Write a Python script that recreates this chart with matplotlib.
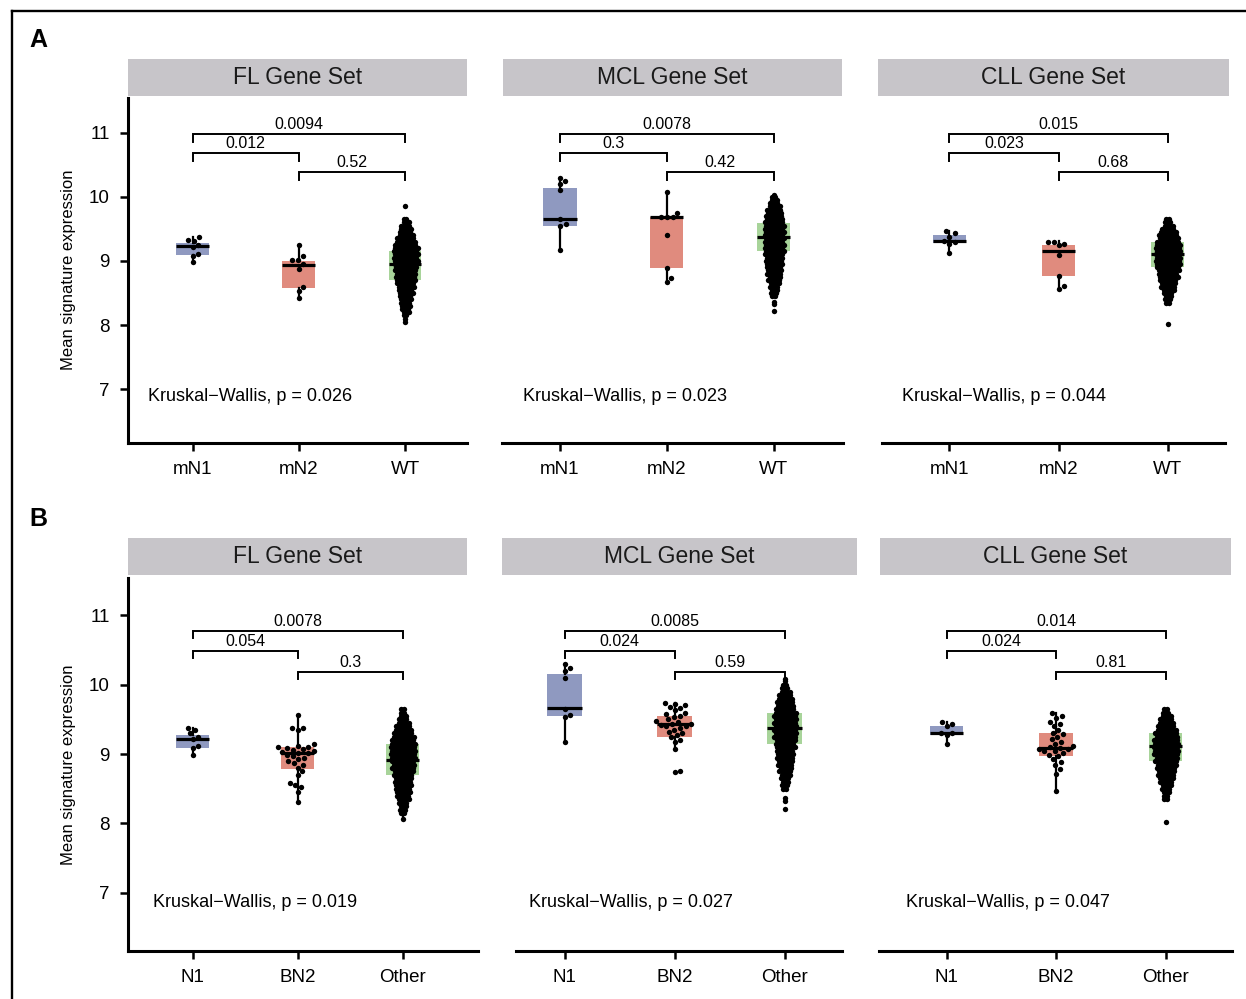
import numpy as np
import matplotlib
matplotlib.use("Agg")
import matplotlib.pyplot as plt
from matplotlib.patches import Rectangle
from matplotlib.lines import Line2D

plt.rcParams['font.family'] = ['Liberation Sans', 'DejaVu Sans']

# ---------------- data ----------------
gene_sets = ["FL Gene Set", "MCL Gene Set", "CLL Gene Set"]
groups_A = ["mN1", "mN2", "WT"]
groups_B = ["N1", "BN2", "Other"]
box_colors = ["#8f99c0", "#e08b7e", "#a8d49a"]

# box stats per group: [q1, median, q3, whisker_low, whisker_high]
box_A_FL = [[9.09, 9.23, 9.28, 8.98, 9.37], [8.58, 8.93, 9.00, 8.41, 9.24], [8.70, 8.95, 9.16, 8.08, 9.65]]
box_A_MCL = [[9.55, 9.66, 10.14, 9.17, 10.30], [8.89, 9.68, 9.69, 8.68, 10.07], [9.15, 9.37, 9.59, 8.50, 10.03]]
box_A_CLL = [[9.28, 9.31, 9.41, 9.13, 9.47], [8.77, 9.16, 9.25, 8.56, 9.31], [8.90, 9.10, 9.29, 8.36, 9.64]]
box_B_FL = [[9.09, 9.22, 9.27, 8.99, 9.38], [8.79, 9.01, 9.10, 8.30, 9.57], [8.70, 8.92, 9.14, 8.07, 9.64]]
box_B_MCL = [[9.55, 9.66, 10.15, 9.17, 10.30], [9.24, 9.43, 9.55, 9.08, 9.73], [9.15, 9.37, 9.60, 8.51, 10.08]]
box_B_CLL = [[9.27, 9.31, 9.41, 9.14, 9.46], [8.97, 9.09, 9.30, 8.47, 9.59], [8.90, 9.12, 9.30, 8.36, 9.64]]

# individual points of the small groups
pts_A_FL_mN1 = [9.37, 9.33, 9.31, 9.24, 9.22, 9.10, 9.08, 8.98]
pts_A_FL_mN2 = [9.24, 9.07, 9.02, 9.01, 8.95, 8.88, 8.59, 8.53, 8.42]
pts_A_MCL_mN1 = [10.30, 10.24, 10.20, 10.10, 9.65, 9.57, 9.54, 9.17]
pts_A_MCL_mN2 = [10.07, 9.75, 9.69, 9.68, 9.68, 9.41, 8.89, 8.74, 8.67]
pts_A_CLL_mN1 = [9.46, 9.43, 9.38, 9.31, 9.30, 9.27, 9.13]
pts_A_CLL_mN2 = [9.30, 9.30, 9.27, 9.24, 9.09, 8.77, 8.61, 8.56]
pts_B_FL_N1 = [9.38, 9.35, 9.30, 9.24, 9.22, 9.11, 9.09, 8.99]
pts_B_FL_BN2 = [9.57, 9.38, 9.37, 9.35, 9.14, 9.12, 9.10, 9.10, 9.09, 9.07, 9.06, 9.05, 9.03, 9.02,
                9.01, 8.99, 8.97, 8.95, 8.93, 8.90, 8.87, 8.84, 8.80, 8.75, 8.70, 8.58, 8.55, 8.52, 8.45, 8.31]
pts_B_MCL_N1 = [10.30, 10.24, 10.20, 10.10, 9.65, 9.57, 9.54, 9.17]
pts_B_MCL_BN2 = [9.74, 9.72, 9.71, 9.68, 9.66, 9.63, 9.60, 9.58, 9.55, 9.53, 9.50, 9.48, 9.46, 9.44, 9.43,
                 9.42, 9.41, 9.40, 9.38, 9.35, 9.32, 9.30, 9.27, 9.24, 9.20, 9.17, 9.08, 8.76, 8.74]
pts_B_CLL_N1 = [9.46, 9.44, 9.40, 9.31, 9.30, 9.28, 9.14]
pts_B_CLL_BN2 = [9.59, 9.55, 9.52, 9.47, 9.44, 9.41, 9.35, 9.31, 9.29, 9.25, 9.22, 9.18, 9.15, 9.12, 9.10,
                 9.09, 9.08, 9.07, 9.05, 9.04, 9.02, 8.99, 8.97, 8.93, 8.89, 8.85, 8.79, 8.72, 8.47]

# large groups read as value levels and number of samples at each level
lv_A_FL_WT = [8.05, 8.10, 8.15, 8.20, 8.25, 8.30, 8.35, 8.40, 8.45, 8.50, 8.55, 8.60, 8.65, 8.70, 8.75, 8.80, 8.85,
              8.90, 8.95, 9.00, 9.05, 9.10, 9.15, 9.20, 9.25, 9.30, 9.35, 9.40, 9.45, 9.50, 9.55, 9.60, 9.65, 9.85]
ct_A_FL_WT = [1, 1, 2, 3, 3, 4, 4, 5, 5, 6, 6, 7, 7, 8, 8, 8, 9, 9, 9, 10, 10, 10, 10, 10, 9, 8, 7, 6, 5, 5, 4, 3, 2, 1]
lv_A_MCL_WT = [8.22, 8.33, 8.36, 8.45, 8.50, 8.55, 8.60, 8.65, 8.70, 8.75, 8.80, 8.85, 8.90, 8.95, 9.00, 9.05, 9.10,
               9.15, 9.20, 9.25, 9.30, 9.35, 9.40, 9.45, 9.50, 9.55, 9.60, 9.65, 9.70, 9.75, 9.80, 9.85, 9.90, 9.95,
               10.00, 10.03]
ct_A_MCL_WT = [1, 1, 1, 2, 3, 3, 4, 4, 5, 5, 6, 6, 6, 7, 7, 7, 8, 8, 8, 8, 8, 8, 8, 8, 8, 8, 8, 7, 7, 6, 6, 5, 4, 3, 2, 1]
lv_A_CLL_WT = [8.01, 8.35, 8.40, 8.45, 8.50, 8.55, 8.60, 8.65, 8.70, 8.75, 8.80, 8.85, 8.90, 8.95, 9.00, 9.05, 9.10,
               9.15, 9.20, 9.25, 9.30, 9.35, 9.40, 9.45, 9.50, 9.55, 9.60, 9.65]
ct_A_CLL_WT = [1, 2, 3, 3, 4, 5, 6, 6, 7, 8, 8, 9, 9, 10, 10, 10, 10, 10, 10, 10, 9, 8, 8, 7, 5, 4, 3, 2]
lv_B_FL_Other = [8.07, 8.15, 8.20, 8.25, 8.30, 8.35, 8.40, 8.45, 8.50, 8.55, 8.60, 8.65, 8.70, 8.75, 8.80, 8.85,
                 8.90, 8.95, 9.00, 9.05, 9.10, 9.15, 9.20, 9.25, 9.30, 9.35, 9.40, 9.45, 9.50, 9.55, 9.60, 9.65]
ct_B_FL_Other = [1, 2, 3, 3, 4, 5, 5, 6, 6, 7, 7, 7, 8, 8, 9, 9, 9, 10, 10, 10, 10, 10, 9, 9, 8, 7, 6, 5, 4, 3, 2, 2]
lv_B_MCL_Other = [8.21, 8.33, 8.36, 8.50, 8.55, 8.60, 8.65, 8.70, 8.75, 8.80, 8.85, 8.90, 8.95, 9.00, 9.05, 9.10,
                  9.15, 9.20, 9.25, 9.30, 9.35, 9.40, 9.45, 9.50, 9.55, 9.60, 9.65, 9.70, 9.75, 9.80, 9.85, 9.90,
                  9.95, 10.00, 10.05, 10.08]
ct_B_MCL_Other = [1, 1, 1, 2, 3, 3, 4, 4, 5, 5, 6, 6, 7, 7, 7, 8, 8, 8, 9, 9, 9, 9, 9, 9, 9, 9, 8, 7, 7, 6, 5, 4, 3,
                  2, 1, 1]
lv_B_CLL_Other = [8.02, 8.35, 8.40, 8.45, 8.50, 8.55, 8.60, 8.65, 8.70, 8.75, 8.80, 8.85, 8.90, 8.95, 9.00, 9.05,
                  9.10, 9.15, 9.20, 9.25, 9.30, 9.35, 9.40, 9.45, 9.50, 9.55, 9.60, 9.65]
ct_B_CLL_Other = [1, 2, 2, 3, 4, 4, 5, 6, 7, 7, 8, 8, 9, 9, 10, 10, 10, 10, 10, 9, 9, 8, 7, 6, 5, 4, 3, 2]

# pairwise p-values: (1 vs 3), (1 vs 2), (2 vs 3)
p_A_FL = ["0.0094", "0.012", "0.52"]
p_A_MCL = ["0.0078", "0.3", "0.42"]
p_A_CLL = ["0.015", "0.023", "0.68"]
p_B_FL = ["0.0078", "0.054", "0.3"]
p_B_MCL = ["0.0085", "0.024", "0.59"]
p_B_CLL = ["0.014", "0.024", "0.81"]
kw_A = ["0.026", "0.023", "0.044"]
kw_B = ["0.019", "0.027", "0.047"]

y_ticks = [7, 8, 9, 10, 11]

# ---------------- layout (pixels) ----------------
W, H = 1246, 999
fig = plt.figure(figsize=(W / 100, H / 100), dpi=100)
YLIM = (6.16, 11.54)

rows = [
    dict(top=98, bot=443, strip=(59, 96), groups=groups_A, kw=kw_A, brk=[10.98, 10.68, 10.38], tick=0.12,
         letter="A", letter_y=40, ylabel_y=270, kw_y=6.88,
         panels=[dict(L=128, R=467, p1=192.5, p3=405, sx=(128, 467), kwx=148, box=box_A_FL, pv=p_A_FL,
                      small=[pts_A_FL_mN1, pts_A_FL_mN2], big=(lv_A_FL_WT, ct_A_FL_WT)),
                 dict(L=502, R=843, p1=560, p3=773.5, sx=(503, 842), kwx=523, box=box_A_MCL, pv=p_A_MCL,
                      small=[pts_A_MCL_mN1, pts_A_MCL_mN2], big=(lv_A_MCL_WT, ct_A_MCL_WT)),
                 dict(L=882, R=1225, p1=949.5, p3=1167.5, sx=(878, 1229), kwx=902, box=box_A_CLL, pv=p_A_CLL,
                      small=[pts_A_CLL_mN1, pts_A_CLL_mN2], big=(lv_A_CLL_WT, ct_A_CLL_WT))]),
    dict(top=578, bot=951, strip=(538, 575), groups=groups_B, kw=kw_B, brk=[10.78, 10.48, 10.18], tick=0.10,
         letter="B", letter_y=519, ylabel_y=765, kw_y=6.86,
         panels=[dict(L=128, R=478, p1=192.5, p3=402.5, sx=(128, 467), kwx=153, box=box_B_FL, pv=p_B_FL,
                      small=[pts_B_FL_N1, pts_B_FL_BN2], big=(lv_B_FL_Other, ct_B_FL_Other)),
                 dict(L=516, R=842, p1=564.5, p3=784.5, sx=(502, 857), kwx=529, box=box_B_MCL, pv=p_B_MCL,
                      small=[pts_B_MCL_N1, pts_B_MCL_BN2], big=(lv_B_MCL_Other, ct_B_MCL_Other)),
                 dict(L=879, R=1232, p1=946.5, p3=1165.5, sx=(880, 1231), kwx=906, box=box_B_CLL, pv=p_B_CLL,
                      small=[pts_B_CLL_N1, pts_B_CLL_BN2], big=(lv_B_CLL_Other, ct_B_CLL_Other))]),
]

DOT_D = 6.0      # px min distance in swarm
ROW_SP = 2.55    # px spacing within a dense row
MS = 15          # scatter marker size


def swarm(values, ppx, ppy, d):
    values = np.asarray(values, float)
    order = np.argsort(values)
    placed = []
    res = np.zeros(len(values))
    for i in order:
        y = values[i] * ppy
        cands = [0.0]
        for (px, py) in placed:
            dy = y - py
            if abs(dy) < d:
                dx = np.sqrt(d * d - dy * dy)
                cands += [px + dx, px - dx]
        cands.sort(key=abs)
        for c in cands:
            if all((c - px) ** 2 + (y - py) ** 2 >= d * d - 1e-6 for px, py in placed):
                break
        placed.append((c, y))
        res[i] = c / ppx
    return res


def rows_layout(levels, counts, ppx):
    xs, ys = [], []
    for k, (lv, n) in enumerate(zip(levels, counts)):
        shift = 0.5 * ROW_SP * (k % 2) if n > 2 else 0.0
        offs = ((np.arange(n) - (n - 1) / 2) * ROW_SP + shift) / ppx
        xs.extend(offs)
        ys.extend([lv] * n)
    return np.array(xs), np.array(ys)


for r, row in enumerate(rows):
    top, bot = row["top"], row["bot"]
    ppy = (bot - top) / (YLIM[1] - YLIM[0])
    for c, pan in enumerate(row["panels"]):
        L, R, p1, p3 = pan["L"], pan["R"], pan["p1"], pan["p3"]
        ppx = (p3 - p1) / 2
        xmin = 1 - (p1 - L) / ppx
        xmax = 3 + (R - p3) / ppx
        ax = fig.add_axes([L / W, 1 - bot / H, (R - L) / W, (bot - top) / H])
        ax.set_xlim(xmin, xmax)
        ax.set_ylim(*YLIM)
        ax.patch.set_alpha(0)

        # strip
        sx0, sx1 = pan["sx"]
        st0, st1 = row["strip"]
        fig.add_artist(Rectangle((sx0 / W, 1 - st1 / H), (sx1 - sx0) / W, (st1 - st0) / H,
                                 transform=fig.transFigure, facecolor="#c7c5c9", edgecolor="none"))
        fig.text((sx0 + sx1) / 2 / W, 1 - (st0 + st1) / 2 / H, gene_sets[c], ha="center", va="center",
                 fontsize=16.5, color="#1a1a1a")

        # boxes
        stats = []
        for q1, med, q3, lo, hi in pan["box"]:
            stats.append(dict(q1=q1, med=med, q3=q3, whislo=lo, whishi=hi, fliers=[]))
        bp = ax.bxp(stats, positions=[1, 2, 3], widths=0.31, patch_artist=True, showcaps=False,
                    showfliers=False,
                    boxprops=dict(linewidth=0),
                    whiskerprops=dict(color="black", linewidth=1.6),
                    medianprops=dict(color="black", linewidth=2.3, solid_capstyle="butt"))
        for patch, col in zip(bp["boxes"], box_colors):
            patch.set_facecolor(col)
            patch.set_edgecolor("none")
            patch.set_zorder(1)
        for m in bp["medians"]:
            m.set_zorder(2.5)

        # points
        for g, vals in enumerate(pan["small"]):
            off = swarm(vals, ppx, ppy, DOT_D)
            ax.scatter(g + 1 + off, vals, s=MS, color="black", linewidths=0, zorder=3)
        xo, yv = rows_layout(pan["big"][0], pan["big"][1], ppx)
        ax.scatter(3 + xo, yv, s=MS, color="black", linewidths=0, zorder=3)

        # brackets
        pairs = [(1, 3), (1, 2), (2, 3)]
        for (a, b), yb, lab in zip(pairs, row["brk"], pan["pv"]):
            ax.plot([a, a, b, b], [yb - row["tick"], yb, yb, yb - row["tick"]], color="black",
                    linewidth=1.4, solid_joinstyle="miter", clip_on=False)
            ax.text((a + b) / 2, yb + 0.03, lab, ha="center", va="bottom", fontsize=11.5)

        kx = 1 - (p1 - pan["kwx"]) / ppx
        ax.text(kx, row["kw_y"], "Kruskal\u2212Wallis, p = " + row["kw"][c], ha="left", va="center",
                fontsize=13)

        # axes styling
        for s in ["top", "right"]:
            ax.spines[s].set_visible(False)
        ax.spines["bottom"].set_linewidth(2.2)
        ax.set_xticks([1, 2, 3])
        ax.set_xticklabels(row["groups"], fontsize=13.5)
        ax.tick_params(axis="x", length=6, width=1.8, pad=7)
        if c == 0:
            ax.spines["left"].set_linewidth(2.2)
            ax.set_yticks(y_ticks)
            ax.set_yticklabels([str(t) for t in y_ticks], fontsize=13.5)
            ax.tick_params(axis="y", length=6, width=1.8, pad=7)
        else:
            ax.spines["left"].set_visible(False)
            ax.set_yticks([])

    # row letter and y label
    fig.text(38 / W, 1 - row["letter_y"] / H, row["letter"], ha="center", va="center", fontsize=18,
             fontweight="bold")
    fig.text(68 / W, 1 - row["ylabel_y"] / H, "Mean signature expression", rotation=90, ha="center",
             va="center", fontsize=12)

# outer frame lines
fig.add_artist(Line2D([12 / W, 1.0], [1 - 10.5 / H, 1 - 10.5 / H], transform=fig.transFigure, color="black",
                      linewidth=1.7))
fig.add_artist(Line2D([12 / W, 12 / W], [1 - 10.5 / H, 0], transform=fig.transFigure, color="black",
                      linewidth=1.7))

fig.savefig("out.png", dpi=100)
